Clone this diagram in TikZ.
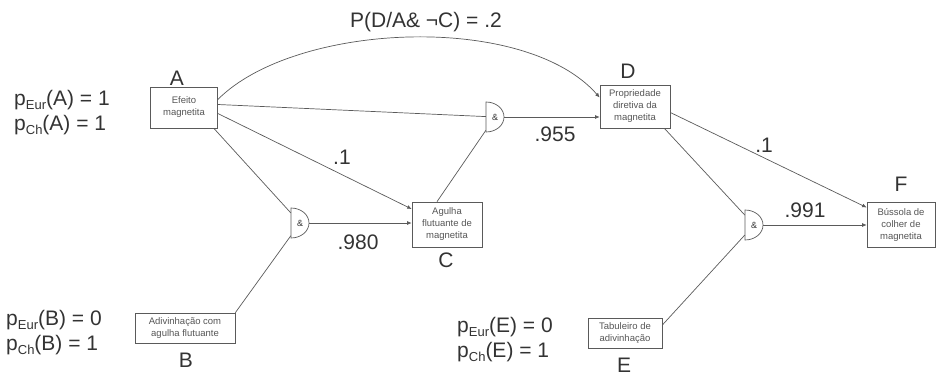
\documentclass[tikz,border=0pt]{standalone}
\usepackage{fontspec}
\setmainfont{Liberation Sans}
\usetikzlibrary{arrows.meta,calc}
\definecolor{ln}{HTML}{5A5A5A}
\definecolor{tx}{HTML}{333333}
\definecolor{bt}{HTML}{555555}
\newcommand\lowsub[1]{\raisebox{-0.3ex}{\fontsize{13}{13}\selectfont #1}}
\newcommand\andshape[1]{\draw[conn] ([xshift=-9pt,yshift=15pt]#1.center) -- ([xshift=-9pt,yshift=-15pt]#1.center) arc[start angle=90,end angle=-90,x radius=18,y radius=15] -- cycle;}
\begin{document}
\begin{tikzpicture}[x=1pt,y=-1pt,
  conn/.style={draw=ln,line width=0.7pt},
  arr/.style={conn,-{Latex[length=4.5pt,width=4pt]}},
  box/.style={draw=ln,line width=0.7pt,align=center,inner sep=0pt,text=bt,
    font=\fontsize{9.5}{12}\selectfont},
  big/.style={text=tx,font=\fontsize{21}{25}\selectfont,inner sep=0pt},
  gate/.style={rectangle,minimum width=18pt,minimum height=30pt,inner sep=0pt,
    text=tx,font=\fontsize{9}{9}\selectfont}]
\useasboundingbox (0,0) rectangle (936,377);

% boxes
\node[box,minimum width=67pt,minimum height=41pt] (A) at (184,107.5) {Efeito\\magnetita};
\node[box,minimum width=70pt,minimum height=43pt] (D) at (635,106.5) {Propriedade\\diretiva da\\magnetita};
\node[box,minimum width=70pt,minimum height=45pt] (C) at (447,224.5) {Agulha\\flutuante de\\magnetita};
\node[box,minimum width=100pt,minimum height=30pt] (B) at (185,328) {Adivinhação com\\agulha flutuante};
\node[box,minimum width=74pt,minimum height=30pt] (E) at (625,333) {Tabuleiro de\\adivinhação};
\node[box,minimum width=68pt,minimum height=45pt] (F) at (901,224.5) {Bússola de\\colher de\\magnetita};

% letter labels
\node[big] (lA) at (177,78) {A};
\node[big] (lD) at (628,71) {D};
\node[big] (lC) at (446,260) {C};
\node[big] (lB) at (186,360) {B};
\node[big] (lE) at (624,365) {E};
\node[big] (lF) at (901,184) {F};

% probability texts
\node[big,align=left,anchor=west] (pA) at (14,113) {p\lowsub{Eur}(A) = 1\\p\lowsub{Ch}(A) = 1};
\node[big,align=left,anchor=west] (pB) at (6,333) {p\lowsub{Eur}(B) = 0\\p\lowsub{Ch}(B) = 1};
\node[big,align=left,anchor=west] (pE) at (457,340) {p\lowsub{Eur}(E) = 0\\p\lowsub{Ch}(E) = 1};

% gates
\node[gate] (g1) at (300,223) {\&};
\node[gate] (g2) at (495,117) {\&};
\node[gate] (g3) at (754,225) {\&};
\andshape{g1}
\andshape{g2}
\andshape{g3}

% connectors
\draw[arr] ([yshift=8pt]A.east) .. controls (295,22) and (525,12) .. ([yshift=9pt]D.west);
\node[big] (lAD) at (426,22) {P(D/A\& ¬C) = .2};

\draw[conn] ([yshift=3pt]A.east) -- (g2);
\draw[arr] ([yshift=-6pt]A.east) -- ([yshift=15.5pt]C.west);
\node[big] (l1) at (342,157) {.1};
\draw[conn] ([xshift=-4pt]A.south east) -- (g1);
\draw[conn] (B.north east) -- (g1);
\draw[arr] (g1.east) -- (g1.east -| C.west);
\node[big] (l980) at (358,242) {.980};
\draw[conn] ([xshift=-10pt]C.north) -- (g2);
\draw[arr] (g2.east) -- (g2.east -| D.west);
\node[big] (l955) at (555,134) {.955};
\draw[arr] ([yshift=-6pt]D.east) -- ([yshift=17pt]F.west);
\node[big] (l1b) at (764,145) {.1};
\draw[conn] ([xshift=-6pt]D.south east) -- (g3);
\draw[conn] ([yshift=8pt]E.east) -- (g3);
\draw[arr] (g3.east) -- (g3.east -| F.west);
\node[big] (l991) at (805,210) {.991};
\end{tikzpicture}
\end{document}
